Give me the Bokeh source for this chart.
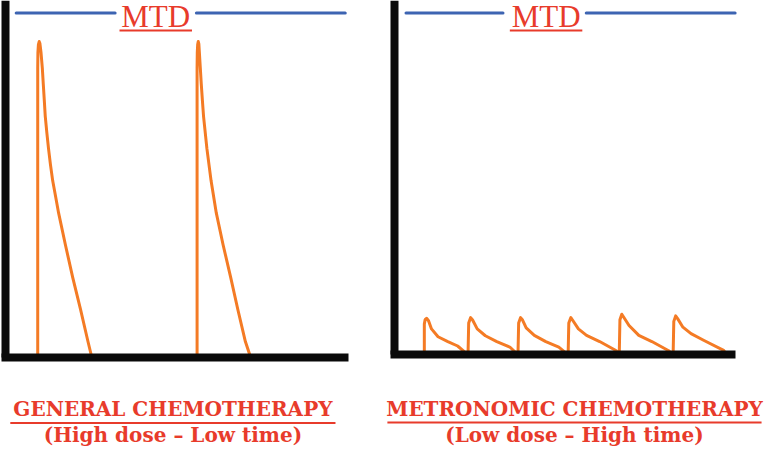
from bokeh.plotting import figure
from bokeh.layouts import row
from bokeh.models import Range1d, FixedTicker
from bokeh.core.properties import value
from bokeh.embed import file_html
from bokeh.resources import INLINE

# ---------------- data (time units, dose as % of MTD) ----------------
MTD = 100

# General chemotherapy: two high-dose pulses
general_pulse1_t = [3.25, 3.25, 3.27, 3.32, 3.40, 3.47, 3.58, 3.72, 3.82, 3.92, 4.02, 4.18, 4.35,
                    4.55, 4.78, 5.08, 5.38, 6.08, 6.82, 7.62, 8.38, 8.78]
general_pulse1_dose = [0, 84.0, 88.5, 90.8, 91.7, 91.2, 88.7, 84.0, 79.3, 74.7, 70.0, 65.3, 60.7,
                       56.0, 51.3, 46.7, 42.0, 32.7, 23.3, 14.0, 4.7, 0]
general_pulse2_t = [19.52, 19.52, 19.54, 19.58, 19.64, 19.70, 19.75, 19.85, 19.95, 20.06, 20.18,
                    20.52, 20.95, 21.48, 22.18, 22.95, 23.68, 24.45, 25.00]
general_pulse2_dose = [0, 84.0, 88.5, 90.8, 91.7, 91.0, 88.7, 84.0, 79.3, 74.7, 70.0,
                       60.7, 51.3, 42.0, 32.7, 23.3, 14.0, 4.7, 0]

# Metronomic chemotherapy: six low-dose pulses (one continuous trace)
metronomic_t = [3.02, 3.02, 3.10, 3.25, 3.45, 3.75, 4.42, 5.42, 6.42, 7.48,
                7.48, 7.55, 7.75, 7.95, 8.42, 9.25, 10.42, 11.75, 12.58,
                12.58, 12.65, 12.85, 13.05, 13.42, 14.25, 15.42, 16.75, 17.70,
                17.70, 17.77, 17.98, 18.15, 18.75, 19.58, 20.92, 22.58, 22.92,
                22.92, 22.99, 23.18, 23.38, 23.92, 24.92, 26.25, 27.92, 28.42,
                28.42, 28.49, 28.68, 28.88, 29.42, 30.25, 31.58, 33.58, 33.90]
metronomic_dose = [0, 9.0, 10.3, 10.7, 10.0, 7.6, 5.3, 3.9, 2.6, 0,
                   0, 9.3, 10.9, 10.2, 7.6, 5.6, 3.9, 2.3, 0,
                   0, 9.3, 10.9, 10.2, 7.9, 5.7, 3.9, 2.3, 0,
                   0, 9.3, 10.9, 10.2, 7.6, 5.7, 3.9, 1.3, 0,
                   0, 10.3, 11.9, 11.0, 8.6, 5.7, 3.9, 1.3, 0,
                   0, 9.8, 11.4, 10.6, 8.1, 6.2, 4.2, 1.3, 0]

mtd_label = "MTD"
panel_titles = ["GENERAL CHEMOTHERAPY", "METRONOMIC CHEMOTHERAPY"]
panel_subtitles = ["(High dose – Low time)", "(Low dose – High time)"]

# ---------------- styles ----------------
ORANGE = "#f47b25"
BLUE = "#3d64b2"
RED = "#e83b2b"
BLACK = "#0a0a0a"


def make_panel(traces_t, traces_d, x_rng, y_rng, axis_end, mtd_gap, mtd_x,
               title, subtitle, title_x, title_y, sub_y, ul_span, ul_y):
    p = figure(width=382, height=450, x_range=Range1d(*x_rng), y_range=Range1d(*y_rng),
               output_backend="svg", toolbar_location=None, min_border=0)
    p.grid.visible = False
    p.outline_line_color = None

    for ax in (p.xaxis[0], p.yaxis[0]):
        ax.fixed_location = 0
        ax.ticker = FixedTicker(ticks=[])
        ax.major_tick_line_color = None
        ax.minor_tick_line_color = None
        ax.major_label_text_color = None
        ax.axis_line_width = 8
        ax.axis_line_color = BLACK
    p.xaxis[0].bounds = (-0.45, axis_end)
    p.yaxis[0].bounds = (0, y_rng[1])

    # MTD level line with gap for label
    p.segment(x0=[mtd_gap[0][0], mtd_gap[1][0]], y0=[MTD, MTD],
              x1=[mtd_gap[0][1], mtd_gap[1][1]], y1=[MTD, MTD],
              line_color=BLUE, line_width=3, line_cap="round")
    p.text(x=[mtd_x], y=[MTD - 1.1], text=[mtd_label], text_font=value("Liberation Serif"),
           text_font_size="31px", text_color=RED, text_align="center", text_baseline="alphabetic")
    p.segment(x0=[mtd_x - 3.7], x1=[mtd_x + 3.7], y0=[MTD - 5.1], y1=[MTD - 5.1],
              line_color=RED, line_width=2)

    # dose curves
    p.multi_line(xs=traces_t, ys=traces_d, line_color=ORANGE, line_width=3,
                 line_join="round", line_cap="round")

    # labels
    p.text(x=[title_x], y=[title_y], text=[title], text_font=value("DejaVu Serif"),
           text_font_style="bold", text_font_size="20px", text_color=RED,
           text_align="center", text_baseline="alphabetic")
    p.segment(x0=[ul_span[0]], x1=[ul_span[1]], y0=[ul_y], y1=[ul_y],
              line_color=RED, line_width=2)
    p.text(x=[title_x], y=[sub_y], text=[subtitle], text_font=value("DejaVu Serif"),
           text_font_style="bold", text_font_size="20px", text_color=RED,
           text_align="center", text_baseline="alphabetic")
    return p


p1 = make_panel([general_pulse1_t, general_pulse2_t], [general_pulse1_dose, general_pulse2_dose],
                (-0.55, 38.45), (-26.9, 103.6), 34.95,
                ((1.05, 11.15), (19.45, 34.65)), 15.3,
                panel_titles[0], panel_subtitles[0], 17.05, -14.8, -22.4, (0.45, 33.65), -18.9)
p2 = make_panel([metronomic_t], [metronomic_dose],
                (-1.25, 37.75), (-27.97, 103.67), 34.75,
                ((1.15, 11.05), (19.55, 34.75)), 15.45,
                panel_titles[1], panel_subtitles[1], 18.35, -15.8, -23.5, (-0.75, 37.45), -19.8)

layout = row(p1, p2)
open("out.html", "w").write(file_html(layout, INLINE))
